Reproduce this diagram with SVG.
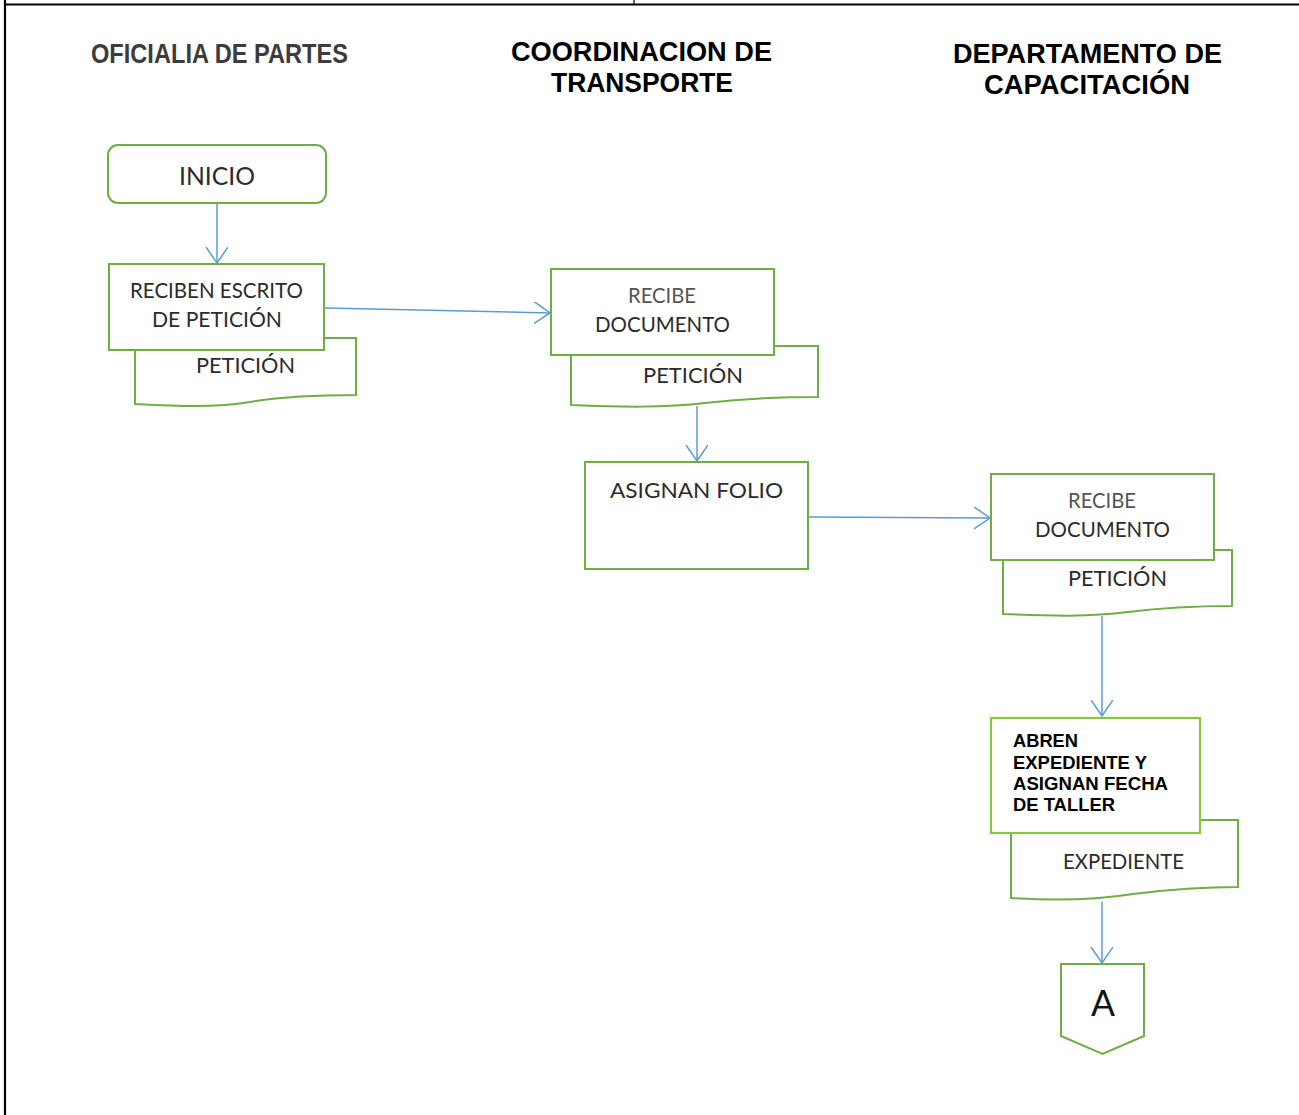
<svg xmlns="http://www.w3.org/2000/svg" width="1299" height="1115" viewBox="0 0 1299 1115">
<defs>
<style>
.frame{stroke:#000;stroke-width:2.2;fill:none}
.box{fill:#fff;stroke:#70AD47;stroke-width:2}
.boxl{fill:#fff;stroke:#8CC63F;stroke-width:2.2}
.doc{fill:#fff;stroke:#70AD47;stroke-width:2}
.conn{stroke:#5B9BD5;stroke-width:1.5;fill:none;marker-end:url(#arr)}
.t{font-family:Lato,"Liberation Sans",sans-serif;fill:#2b2b2b;font-size:21px}
.big{font-size:25px}
.huge{font-size:36px;fill:#111}
.gray{fill:#555}
.title{font-family:"Liberation Sans",Arial,sans-serif;font-weight:bold;fill:#000;font-size:27px;text-anchor:middle}
.title1{font-family:"Liberation Sans",Arial,sans-serif;font-weight:bold;fill:#3c3c3c;font-size:28px}
.b{font-family:"Liberation Sans",Arial,sans-serif;font-weight:bold;fill:#000;font-size:18px}
</style>
<marker id="arr" markerUnits="userSpaceOnUse" markerWidth="18" markerHeight="24" refX="16" refY="11" orient="auto">
<path d="M0,0 L16,11 L0,22" fill="none" stroke="#5B9BD5" stroke-width="1.5"/>
</marker>
</defs>
<rect width="1299" height="1115" fill="#fff"/>
<g id="frame">
<line class="frame" x1="5" y1="0" x2="5" y2="1115"/>
<line class="frame" x1="4" y1="4.5" x2="1299" y2="4.5"/>
<line x1="634" y1="0" x2="634" y2="5" stroke="#000" stroke-width="1.2"/>
</g>
<g id="lane-titles">
<text class="title1" x="91" y="63" textLength="257" lengthAdjust="spacingAndGlyphs">OFICIALIA DE PARTES</text>
<text class="title" x="641.5" y="61" textLength="261" lengthAdjust="spacingAndGlyphs">COORDINACION DE</text>
<text class="title" x="642" y="92" textLength="182" lengthAdjust="spacingAndGlyphs">TRANSPORTE</text>
<text class="title" x="1087.5" y="63" textLength="269" lengthAdjust="spacingAndGlyphs">DEPARTAMENTO DE</text>
<text class="title" x="1087" y="94" textLength="206" lengthAdjust="spacingAndGlyphs">CAPACITACIÓN</text>
</g>
<g id="connectors">
<line class="conn" x1="217" y1="204" x2="217" y2="263"/>
<line class="conn" x1="325" y1="308" x2="550" y2="313"/>
<line class="conn" x1="697" y1="406" x2="697" y2="461"/>
<line class="conn" x1="809" y1="517" x2="990" y2="518"/>
<line class="conn" x1="1102" y1="616" x2="1102" y2="716"/>
<line class="conn" x1="1102" y1="902" x2="1102" y2="963"/>
</g>
<g id="inicio">
<rect class="box" x="108" y="145" width="218" height="58" rx="10"/>
<text class="t big" x="179" y="185" textLength="76" lengthAdjust="spacingAndGlyphs">INICIO</text>
</g>
<g id="reciben-escrito">
<path class="doc" d="M135,338 H356 V395 C320,395 280,397 250,402 C215,408 175,406 135,404 Z"/>
<text class="t" x="196" y="373" textLength="99" lengthAdjust="spacingAndGlyphs">PETICIÓN</text>
<rect class="box" x="109" y="264" width="215" height="86"/>
<text class="t" x="130" y="298" textLength="173" lengthAdjust="spacingAndGlyphs">RECIBEN ESCRITO</text>
<text class="t" x="152" y="327" textLength="130" lengthAdjust="spacingAndGlyphs">DE PETICIÓN</text>
</g>
<g id="recibe-documento-1">
<path class="doc" d="M571,346 H818 V397 C780,397 740,399 705,403 C665,408 620,407 571,405 Z"/>
<text class="t" x="643" y="383" textLength="100" lengthAdjust="spacingAndGlyphs">PETICIÓN</text>
<rect class="box" x="551" y="269" width="223" height="86"/>
<text class="t gray" x="628" y="303" textLength="68" lengthAdjust="spacingAndGlyphs">RECIBE</text>
<text class="t" x="595" y="332" textLength="135" lengthAdjust="spacingAndGlyphs">DOCUMENTO</text>
</g>
<g id="asignan-folio">
<rect class="box" x="585" y="462" width="223" height="107"/>
<text class="t" x="610" y="498" textLength="173" lengthAdjust="spacingAndGlyphs">ASIGNAN FOLIO</text>
</g>
<g id="recibe-documento-2">
<path class="doc" d="M1003,550 H1232 V606 C1196,606 1160,608 1128,612 C1090,617 1050,616 1003,614 Z"/>
<text class="t" x="1068" y="586" textLength="99" lengthAdjust="spacingAndGlyphs">PETICIÓN</text>
<rect class="box" x="991" y="474" width="223" height="86"/>
<text class="t gray" x="1068" y="508" textLength="68" lengthAdjust="spacingAndGlyphs">RECIBE</text>
<text class="t" x="1035" y="537" textLength="135" lengthAdjust="spacingAndGlyphs">DOCUMENTO</text>
</g>
<g id="abren-expediente">
<path class="doc" d="M1011,820 H1238 V887 C1200,887 1165,890 1133,894 C1095,900 1055,901 1011,898 Z"/>
<text class="t" x="1063" y="869" textLength="121" lengthAdjust="spacingAndGlyphs">EXPEDIENTE</text>
<rect class="boxl" x="991" y="718" width="209" height="115"/>
<text class="b" x="1013" y="747" textLength="65" lengthAdjust="spacingAndGlyphs">ABREN</text>
<text class="b" x="1013" y="768.5" textLength="134" lengthAdjust="spacingAndGlyphs">EXPEDIENTE Y</text>
<text class="b" x="1013" y="790" textLength="155" lengthAdjust="spacingAndGlyphs">ASIGNAN FECHA</text>
<text class="b" x="1013" y="811" textLength="102" lengthAdjust="spacingAndGlyphs">DE TALLER</text>
</g>
<g id="conector-a">
<path class="box" d="M1061,964 H1144 V1036 L1102.5,1054 L1061,1036 Z"/>
<text class="t huge" x="1091" y="1016" textLength="24" lengthAdjust="spacingAndGlyphs">A</text>
</g>
</svg>
